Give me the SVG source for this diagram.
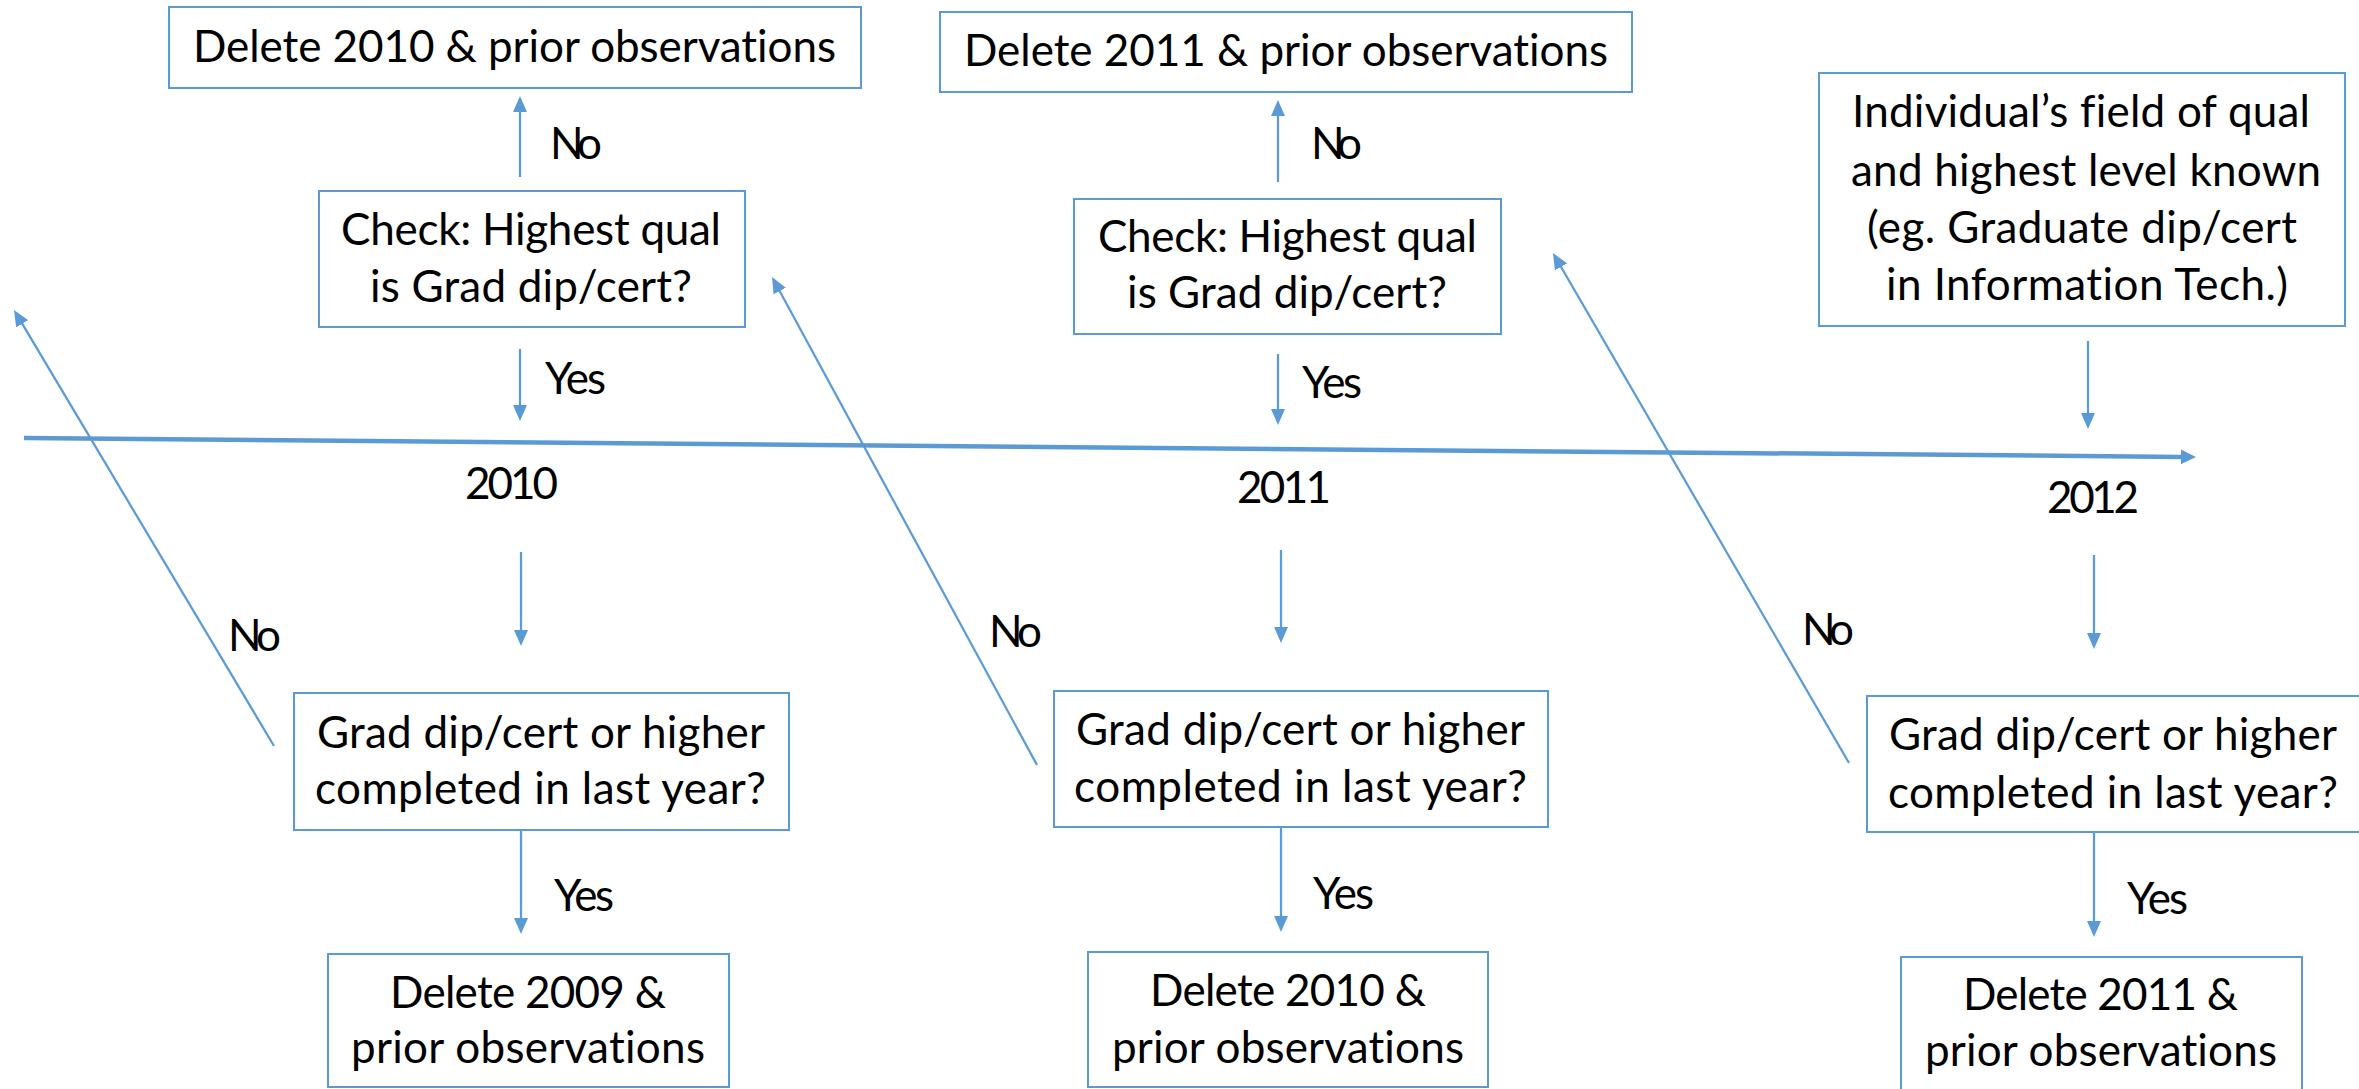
<svg xmlns="http://www.w3.org/2000/svg" width="2359" height="1089" viewBox="0 0 2359 1089">
  <style>
    .box { fill: #FFFFFF; stroke: #5B9BD5; stroke-width: 2; }
    .t { font-family: Lato, "Liberation Sans", sans-serif; font-size: 44px; fill: #000000; font-variant-ligatures: none; font-feature-settings: "liga" 0, "clig" 0, "dlig" 0; }
    .c { stroke: #5B9BD5; stroke-width: 2.25; fill: none; }
    .axis { stroke: #5B9BD5; stroke-width: 4.5; fill: none; }
  </style>
  <defs>
    <marker id="arr" markerUnits="userSpaceOnUse" markerWidth="17" markerHeight="14" refX="1" refY="7" orient="auto">
      <path d="M0,0 L16,7 L0,14 Z" fill="#5B9BD5"/>
    </marker>
    <marker id="arrBig" markerUnits="userSpaceOnUse" markerWidth="16" markerHeight="15" refX="1" refY="7.5" orient="auto">
      <path d="M0,0 L15,7.5 L0,15 Z" fill="#5B9BD5"/>
    </marker>
  </defs>
  <rect width="2359" height="1089" fill="#FFFFFF"/>

  <g id="connectors">
    <line class="axis" x1="24" y1="438" x2="2182" y2="456.9" marker-end="url(#arrBig)"/>
    <!-- left column -->
    <line class="c" x1="520" y1="177" x2="520" y2="111" marker-end="url(#arr)"/>
    <line class="c" x1="520" y1="349" x2="520" y2="406" marker-end="url(#arr)"/>
    <line class="c" x1="521" y1="552" x2="521" y2="631" marker-end="url(#arr)"/>
    <line class="c" x1="521" y1="830" x2="521" y2="919" marker-end="url(#arr)"/>
    <line class="c" x1="274" y1="746" x2="21.7" y2="322.9" marker-end="url(#arr)"/>
    <!-- middle column -->
    <line class="c" x1="1278" y1="182" x2="1278" y2="115" marker-end="url(#arr)"/>
    <line class="c" x1="1278" y1="354" x2="1278" y2="410" marker-end="url(#arr)"/>
    <line class="c" x1="1281" y1="550" x2="1281" y2="628" marker-end="url(#arr)"/>
    <line class="c" x1="1281" y1="827" x2="1281" y2="917" marker-end="url(#arr)"/>
    <line class="c" x1="1037" y1="765" x2="779.2" y2="290.2" marker-end="url(#arr)"/>
    <!-- right column -->
    <line class="c" x1="2088" y1="341" x2="2088" y2="414" marker-end="url(#arr)"/>
    <line class="c" x1="2094" y1="555" x2="2094" y2="634" marker-end="url(#arr)"/>
    <line class="c" x1="2094" y1="832" x2="2094" y2="922" marker-end="url(#arr)"/>
    <line class="c" x1="1849" y1="763" x2="1560.5" y2="266" marker-end="url(#arr)"/>
  </g>

  <g id="connector-labels">
    <text class="t" x="550" y="159" textLength="52">No</text>
    <text class="t" x="545" y="394" textLength="61">Yes</text>
    <text class="t" x="228" y="651" textLength="53">No</text>
    <text class="t" x="554" y="911" textLength="60">Yes</text>
    <text class="t" x="1311" y="159" textLength="51">No</text>
    <text class="t" x="1302" y="398" textLength="60">Yes</text>
    <text class="t" x="989" y="647" textLength="53">No</text>
    <text class="t" x="1313" y="909" textLength="61">Yes</text>
    <text class="t" x="1802" y="645" textLength="52">No</text>
    <text class="t" x="2127" y="914" textLength="61">Yes</text>
  </g>

  <g id="year-2010"><text class="t" x="465" y="499" textLength="93">2010</text></g>
  <g id="year-2011"><text class="t" x="1237" y="503" textLength="94">2011</text></g>
  <g id="year-2012"><text class="t" x="2047" y="513" textLength="92">2012</text></g>

  <g id="delete-2010-top">
    <rect class="box" x="169" y="7" width="692" height="81"/>
    <text class="t" x="193" y="62" textLength="643">Delete 2010 &amp; prior observations</text>
  </g>
  <g id="check-2010">
    <rect class="box" x="319" y="191" width="426" height="136"/>
    <text class="t" x="341" y="245" textLength="380">Check: Highest qual</text>
    <text class="t" x="370" y="302" textLength="322">is Grad dip/cert?</text>
  </g>
  <g id="question-2010">
    <rect class="box" x="294" y="693" width="495" height="137"/>
    <text class="t" x="317" y="748" textLength="448">Grad dip/cert or higher</text>
    <text class="t" x="315" y="804" textLength="451">completed in last year?</text>
  </g>
  <g id="delete-2009">
    <rect class="box" x="328" y="954" width="401" height="133"/>
    <text class="t" x="390" y="1008" textLength="276">Delete 2009 &amp;</text>
    <text class="t" x="351" y="1063" textLength="354">prior observations</text>
  </g>

  <g id="delete-2011-top">
    <rect class="box" x="940" y="12" width="692" height="80"/>
    <text class="t" x="964" y="66" textLength="644">Delete 2011 &amp; prior observations</text>
  </g>
  <g id="check-2011">
    <rect class="box" x="1074" y="199" width="427" height="135"/>
    <text class="t" x="1098" y="252" textLength="379">Check: Highest qual</text>
    <text class="t" x="1127" y="308" textLength="320">is Grad dip/cert?</text>
  </g>
  <g id="question-2011">
    <rect class="box" x="1054" y="691" width="494" height="136"/>
    <text class="t" x="1076" y="745" textLength="449">Grad dip/cert or higher</text>
    <text class="t" x="1074" y="802" textLength="453">completed in last year?</text>
  </g>
  <g id="delete-2010-bottom">
    <rect class="box" x="1088" y="952" width="400" height="135"/>
    <text class="t" x="1150" y="1006" textLength="276">Delete 2010 &amp;</text>
    <text class="t" x="1112" y="1063" textLength="352">prior observations</text>
  </g>

  <g id="individual-known">
    <rect class="box" x="1819" y="73" width="526" height="253"/>
    <text class="t" x="1852" y="127" textLength="458">Individual’s field of qual</text>
    <text class="t" x="1851" y="186" textLength="470">and highest level known</text>
    <text class="t" x="1867" y="243" textLength="430">(eg. Graduate dip/cert</text>
    <text class="t" x="1886" y="300" textLength="402">in Information Tech.)</text>
  </g>
  <g id="question-2012">
    <rect class="box" x="1867" y="696" width="510" height="136"/>
    <text class="t" x="1889" y="750" textLength="448">Grad dip/cert or higher</text>
    <text class="t" x="1888" y="808" textLength="450">completed in last year?</text>
  </g>
  <g id="delete-2011-bottom">
    <rect class="box" x="1901" y="957" width="401" height="133"/>
    <text class="t" x="1963" y="1010" textLength="275">Delete 2011 &amp;</text>
    <text class="t" x="1925" y="1066" textLength="352">prior observations</text>
  </g>
</svg>
